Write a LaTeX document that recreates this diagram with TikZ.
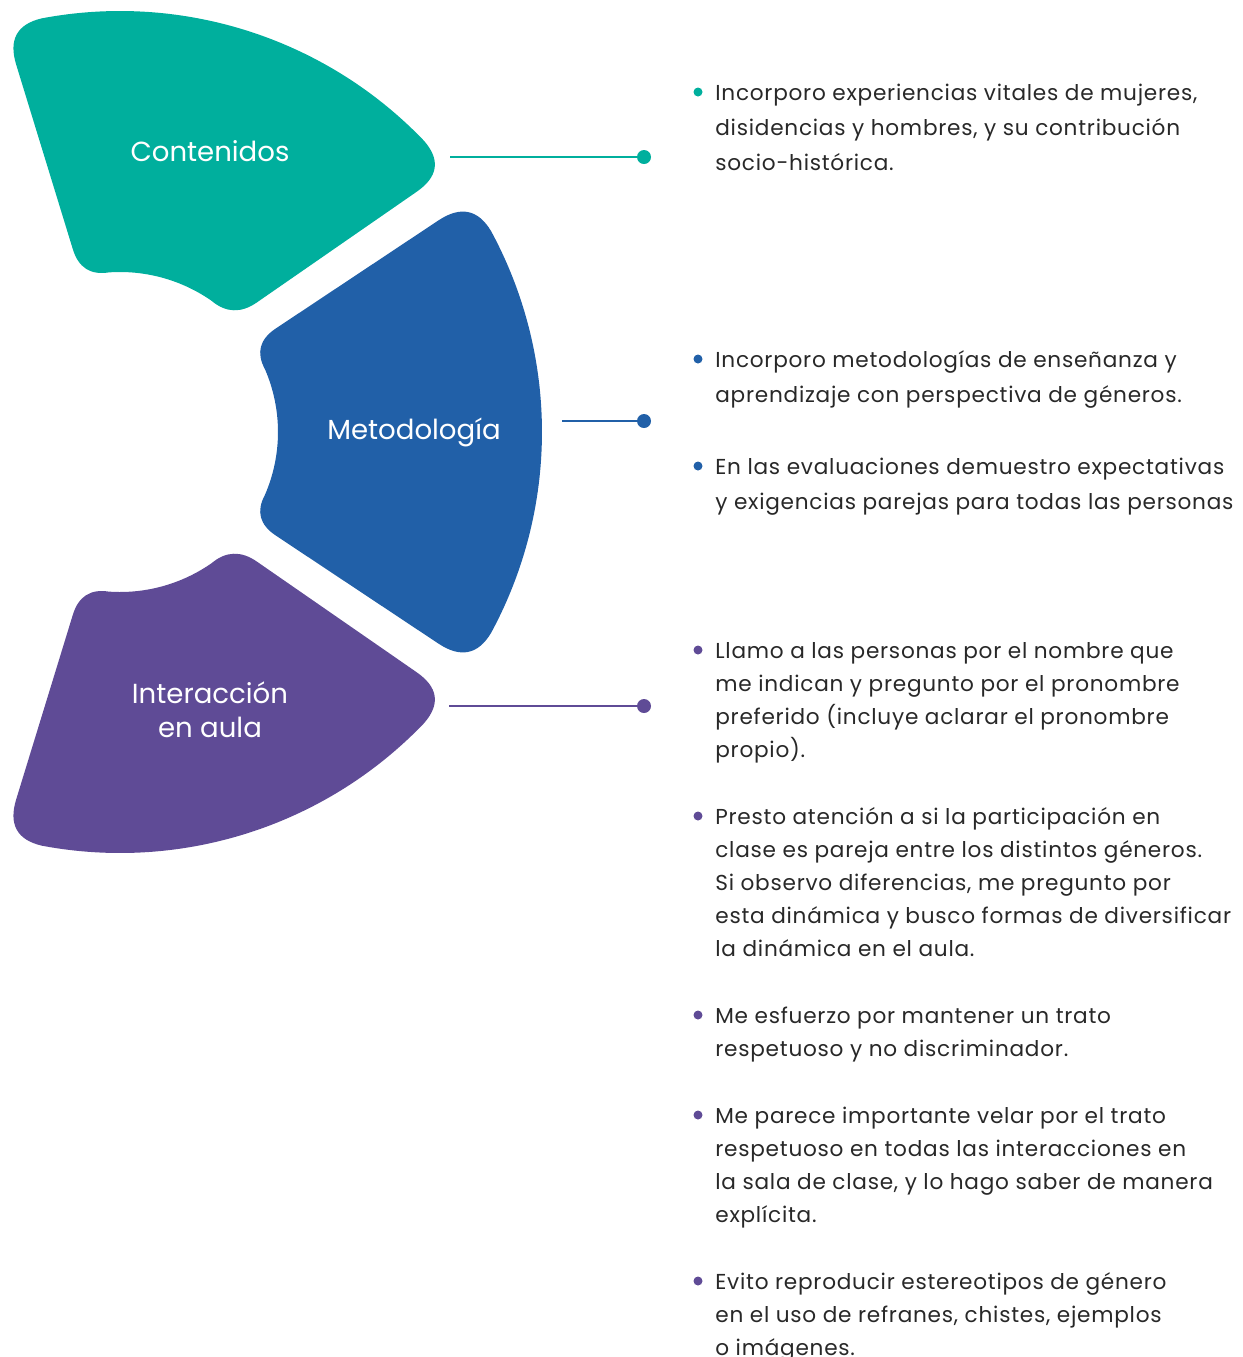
\documentclass[tikz,border=0pt]{standalone}
\usepackage{fontspec}
\setmainfont{Poppins}
\newfontfamily\textoFont{Poppins}[LetterSpace=3.5]
\usetikzlibrary{calc, positioning}
\definecolor{colorContenidos}{RGB}{0,175,157}
\definecolor{colorMetodologia}{RGB}{33,96,168}
\definecolor{colorAula}{RGB}{95,75,150}
\definecolor{colorTexto}{RGB}{40,40,40}
\tikzset{
  titulo/.style={text=white, align=center, inner sep=0pt, font=\fontsize{15.7}{19.3}\selectfont},
  punto/.style={circle, fill=#1, inner sep=0pt, minimum size=0.28cm},
  vineta/.style={circle, fill=#1, inner sep=0pt, minimum size=0.18cm},
  enlace/.style={line width=0.045cm, draw=#1},
  lista/.style={anchor=base west, inner sep=0pt, text=colorTexto, align=left, font=\textoFont\fontsize{12.3}{19.85}\selectfont},
  listaAula/.style={lista, font=\textoFont\fontsize{12.3}{18.7}\selectfont},
}
% rounded annular sector: colour, outer angles, inner angles, radii
\newcommand{\sectorfill}[7]{%
  \pgfmathsetmacro{\secdA}{38/#6*57.296}
  \pgfmathsetmacro{\secdB}{28/#7*57.296}
  \pgfmathsetmacro{\secaS}{#2+\secdA}
  \pgfmathsetmacro{\secaE}{#3-\secdA}
  \pgfmathsetmacro{\secbS}{#5-\secdB}
  \pgfmathsetmacro{\secbE}{#4+\secdB}
  \coordinate (vo1) at ($(c)+(#2:#6)$);
  \coordinate (vo2) at ($(c)+(#3:#6)$);
  \coordinate (vi1) at ($(c)+(#4:#7)$);
  \coordinate (vi2) at ($(c)+(#5:#7)$);
  \coordinate (pa) at ($(c)+(\secaS:#6)$);
  \coordinate (pb) at ($(c)+(\secaE:#6)$);
  \coordinate (pc) at ($(vo2)!0.15!(vi2)$);
  \coordinate (pd) at ($(vo2)!0.89!(vi2)$);
  \coordinate (pe) at ($(c)+(\secbS:#7)$);
  \coordinate (pf) at ($(c)+(\secbE:#7)$);
  \coordinate (pg) at ($(vi1)!0.11!(vo1)$);
  \coordinate (ph) at ($(vi1)!0.85!(vo1)$);
  \fill[#1] (pa) arc[start angle=\secaS, end angle=\secaE, radius=#6]
    .. controls ($(pb)!0.667!(vo2)$) and ($(pc)!0.667!(vo2)$) .. (pc) -- (pd)
    .. controls ($(pd)!0.667!(vi2)$) and ($(pe)!0.667!(vi2)$) .. (pe)
    arc[start angle=\secbS, end angle=\secbE, radius=#7]
    .. controls ($(pf)!0.667!(vi1)$) and ($(pg)!0.667!(vi1)$) .. (pg) -- (ph)
    .. controls ($(ph)!0.667!(vo1)$) and ($(pa)!0.667!(vo1)$) .. (pa) -- cycle;
}

\begin{document}
\begin{tikzpicture}[x=0.02cm, y=-0.02cm]
\useasboundingbox (0,0) rectangle (1243,1357);
\coordinate (c) at (120,432);

% sectors
\sectorfill{colorContenidos}{-105.9}{-38.6}{-104}{-45}{421}{160}
\sectorfill{colorMetodologia}{-33.6}{33.6}{-33.6}{33.6}{422}{158}
\sectorfill{colorAula}{38.6}{105.9}{45}{104}{421}{160}

\node[titulo] (tCont) at (210,151) {Contenidos};
\node[titulo] (tMet) at (414,432) {Metodología};
\node[titulo] (tAula) at (210,710) {Interacción\\en aula};

% connectors
\coordinate (lCont) at (450,157);
\coordinate (lMet) at (562,421);
\coordinate (lAula) at (449,706);
\node[punto=colorContenidos] (dCont) at (644,157) {};
\node[punto=colorMetodologia] (dMet) at (644,421) {};
\node[punto=colorAula] (dAula) at (644,706) {};
\draw[enlace=colorContenidos] (lCont) -- (dCont);
\draw[enlace=colorMetodologia] (lMet) -- (dMet);
\draw[enlace=colorAula] (lAula) -- (dAula);

% lists (anchored at the baseline of the last line)
\node[lista] (i1) at (715,170) {Incorporo experiencias vitales de mujeres,\\disidencias y hombres, y su contribución\\socio-histórica.};
\node[lista] (i2) at (715,402) {Incorporo metodologías de enseñanza y\\aprendizaje con perspectiva de géneros.};
\node[lista] (i3) at (715,509) {En las evaluaciones demuestro expectativas\\y exigencias parejas para todas las personas};
\node[listaAula] (i4) at (715,757) {Llamo a las personas por el nombre que\\me indican y pregunto por el pronombre\\preferido (incluye aclarar el pronombre\\propio).};
\node[listaAula] (i5) at (715,956) {Presto atención a si la participación en\\clase es pareja entre los distintos géneros.\\Si observo diferencias, me pregunto por\\esta dinámica y busco formas de diversificar\\la dinámica en el aula.};
\node[listaAula] (i6) at (715,1056) {Me esfuerzo por mantener un trato\\respetuoso y no discriminador.};
\node[listaAula] (i7) at (715,1222) {Me parece importante velar por el trato\\respetuoso en todas las interacciones en\\la sala de clase, y lo hago saber de manera\\explícita.};
\node[listaAula] (i8) at (715,1355) {Evito reproducir estereotipos de género\\en el uso de refranes, chistes, ejemplos\\o imágenes.};

\node[vineta=colorContenidos] (b1) at (698,92) {};
\node[vineta=colorMetodologia] (b2) at (698,359) {};
\node[vineta=colorMetodologia] (b3) at (698,466) {};
\node[vineta=colorAula] (b4) at (698,650) {};
\node[vineta=colorAula] (b5) at (698,816) {};
\node[vineta=colorAula] (b6) at (698,1015) {};
\node[vineta=colorAula] (b7) at (698,1115) {};
\node[vineta=colorAula] (b8) at (698,1281) {};
\end{tikzpicture}
\end{document}
